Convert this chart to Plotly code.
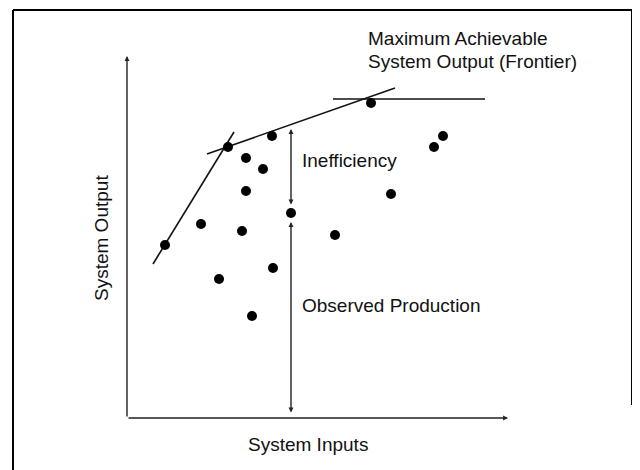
import plotly.graph_objects as go

# Observed production units (input, output) in arbitrary units
obs_x = [38, 101, 145, 119, 136, 119, 74, 115, 164, 92, 146, 125, 208, 244, 264, 307, 316]
obs_y = [173, 271, 282, 260, 249, 227, 194, 187, 205, 139, 150, 102, 183, 315, 224, 271, 282]

# Frontier segments
steep_x = [26, 107]
steep_y = [154, 286]
upper_x = [80, 268]
upper_y = [264, 330]
flat_x = [206, 358]
flat_y = [319, 319]

# Axes extents
x_axis_end = 381
y_axis_end = 362

# Measurement arrows (at the observed unit x=164)
meas_x = 164
ineff_y = [212, 289]
prod_y = [4, 196]

FONT = "Liberation Sans, Arial, sans-serif"
TXT = dict(family=FONT, size=19, color="#111111")

fig = go.Figure()

for xs, ys in [(steep_x, steep_y), (upper_x, upper_y), (flat_x, flat_y)]:
    fig.add_trace(go.Scatter(x=xs, y=ys, mode="lines",
                             line=dict(color="#111111", width=1.6),
                             hoverinfo="skip", showlegend=False))

fig.add_trace(go.Scatter(x=obs_x, y=obs_y, mode="markers",
                         marker=dict(color="#000000", size=10),
                         showlegend=False))

arrow_common = dict(showarrow=True, text="", xref="x", yref="y", axref="x", ayref="y",
                    arrowcolor="#222222", arrowwidth=1.4, arrowsize=0.7)

# axes
fig.add_annotation(x=0, y=y_axis_end, ax=0, ay=0, arrowhead=2, **arrow_common)
fig.add_annotation(x=x_axis_end, y=0, ax=0, ay=0, arrowhead=2, **arrow_common)
# inefficiency
fig.add_annotation(x=meas_x, y=ineff_y[1], ax=meas_x, ay=ineff_y[0], arrowhead=2,
                   startarrowhead=2, arrowside="end+start", startarrowsize=0.7,
                   **arrow_common)
# observed production
fig.add_annotation(x=meas_x, y=prod_y[1], ax=meas_x, ay=prod_y[0], arrowhead=2,
                   startarrowhead=2, arrowside="end+start", startarrowsize=0.7,
                   **arrow_common)

texts = [
    ("Maximum Achievable", 239, 380),
    ("System Output (Frontier)", 239, 357),
    ("Inefficiency", 173, 258),
    ("Observed Production", 173, 112.5),
    ("System Inputs", 119, -26),
]
for t, x, y in texts:
    fig.add_annotation(x=x, y=y, text=t, showarrow=False, xanchor="left", yanchor="middle",
                       xref="x", yref="y", font=TXT)

fig.add_annotation(x=-26, y=180, text="System Output", showarrow=False, textangle=-90,
                   xanchor="center", yanchor="middle", xref="x", yref="y", font=TXT)

# frame (page has an 8px body margin, figure is offset accordingly)
W, H = 640, 470
fx0, fx1, fy_top = 5 / W, 624 / W, 1 - 2 / H
fig.add_shape(type="line", xref="paper", yref="paper", x0=fx0, x1=fx1, y0=fy_top, y1=fy_top,
              line=dict(color="#000000", width=2))
fig.add_shape(type="line", xref="paper", yref="paper", x0=fx0, x1=fx0, y0=0, y1=fy_top,
              line=dict(color="#000000", width=2))
fig.add_shape(type="line", xref="paper", yref="paper", x0=fx1, x1=fx1, y0=1 - 397 / H, y1=fy_top,
              line=dict(color="#000000", width=2))

fig.update_layout(
    width=W, height=H,
    margin=dict(l=0, r=0, t=0, b=0),
    paper_bgcolor="white", plot_bgcolor="white",
    xaxis=dict(range=[-119, 521], visible=False, fixedrange=True),
    yaxis=dict(range=[-60, 410], visible=False, fixedrange=True),
)

fig.write_html("out.html")
